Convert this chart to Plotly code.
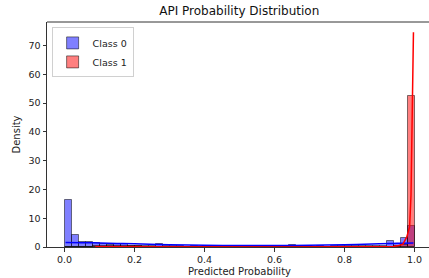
import plotly.graph_objects as go

# ---- data ----
bin_width = 0.02
bin_centers = [round(0.01 + 0.02 * i, 3) for i in range(50)]

class0_density = [16.5, 4.1, 1.6, 1.6, 1.4, 0.9, 0.8, 1.0, 0.9, 0.5,
                  0.4, 0.3, 0.3, 1.0, 0.3, 0.2, 0.2, 0.1, 0.2, 0.1,
                  0.1, 0.2, 0.1, 0.1, 0.1, 0.2, 0.1, 0.1, 0.1, 0.2,
                  0.1, 0.1, 0.7, 0.1, 0.2, 0.1, 0.2, 0.1, 0.2, 0.2,
                  0.3, 0.2, 0.3, 0.3, 0.4, 0.5, 2.0, 0.9, 3.1, 7.2]

class1_density = [0, 0, 0, 0, 0.3, 0.4, 0.3, 0.3, 0.4, 0.3,
                  0.2, 0, 0, 0, 0, 0, 0, 0, 0, 0,
                  0, 0, 0, 0, 0, 0, 0, 0, 0, 0,
                  0, 0, 0, 0, 0, 0, 0, 0, 0, 0,
                  0, 0, 0, 0, 0, 0, 0, 0.2, 0.6, 52.5]

kde0_x = [0.003, 0.05, 0.1, 0.15, 0.2, 0.3, 0.4, 0.5, 0.6, 0.7, 0.8, 0.9, 0.95, 0.997]
kde0_y = [1.6, 1.5, 1.4, 1.25, 1.1, 0.8, 0.6, 0.5, 0.5, 0.6, 0.8, 1.1, 1.3, 1.4]

kde1_x = [0.088, 0.2, 0.35, 0.5, 0.65, 0.8, 0.9, 0.94, 0.955, 0.967, 0.978, 0.986, 0.99, 0.9934, 0.997]
kde1_y = [0.1, 0.05, 0.03, 0.02, 0.03, 0.05, 0.1, 0.2, 0.5, 1.0, 3.5, 7.0, 18.0, 52.0, 74.6]

x_ticks = [0.0, 0.2, 0.4, 0.6, 0.8, 1.0]
y_ticks = [0, 10, 20, 30, 40, 50, 60, 70]

FONT = "DejaVu Sans"
W = 432  # the plot area runs slightly past the 429px window, as in the reference

fig = go.Figure()
fig.add_trace(go.Bar(
    x=bin_centers, y=class0_density, width=bin_width, name="Class 0",
    marker=dict(color="rgba(0,0,255,0.5)", line=dict(color="rgba(0,0,0,0.5)", width=1)),
))
fig.add_trace(go.Bar(
    x=bin_centers, y=class1_density, width=bin_width, name="Class 1",
    marker=dict(color="rgba(255,0,0,0.5)", line=dict(color="rgba(0,0,0,0.5)", width=1)),
))
fig.add_trace(go.Scatter(x=kde0_x, y=kde0_y, mode="lines", line=dict(color="blue", width=1.5, shape="spline"),
                         showlegend=False, hoverinfo="skip"))
fig.add_trace(go.Scatter(x=kde1_x, y=kde1_y, mode="lines", line=dict(color="red", width=1.5),
                         showlegend=False, hoverinfo="skip"))

fig.update_layout(
    width=W, height=278,
    margin=dict(l=47, r=0, t=22, b=31),
    plot_bgcolor="white", paper_bgcolor="white",
    barmode="overlay", bargap=0,
    font=dict(family=FONT, size=10, color="#222"),
    title=dict(text="API Probability Distribution", x=239.3 / W, xanchor="center",
               y=1 - 11 / 278, yanchor="middle", font=dict(size=12, color="#111")),
    legend=dict(x=0.012, y=0.976, xanchor="left", yanchor="top",
                bgcolor="rgba(255,255,255,0.8)", bordercolor="#d0d0d0", borderwidth=1,
                font=dict(size=9.5), itemwidth=30, tracegroupgap=0),
    showlegend=True,
    shapes=[dict(type="line", xref="paper", yref="paper", x0=0, x1=1, y0=1, y1=1,
                 line=dict(color="#333", width=1))],
)
fig.update_xaxes(
    range=[-0.05, 1.05], tickvals=x_ticks, ticktext=[f"{v:.1f}" for v in x_ticks],
    showgrid=False, zeroline=False, showline=True, linecolor="#333", linewidth=1,
    ticks="outside", ticklen=3.5, tickcolor="#333", tickfont=dict(size=9.5), automargin=False,
    title=dict(text="Predicted Probability", font=dict(size=10), standoff=4),
)
fig.update_yaxes(
    range=[0, 78.2], tickvals=y_ticks,
    showgrid=False, zeroline=False, showline=True, linecolor="#333", linewidth=1,
    ticks="outside", ticklen=3.5, tickcolor="#333", tickfont=dict(size=9.5), automargin=False,
    title=dict(text="Density", font=dict(size=10), standoff=6),
)

fig.write_html(
    "out.html",
    config={"displayModeBar": False},
    post_script="document.body.style.margin='0';document.body.style.padding='0';document.body.style.overflow='hidden';",
)
